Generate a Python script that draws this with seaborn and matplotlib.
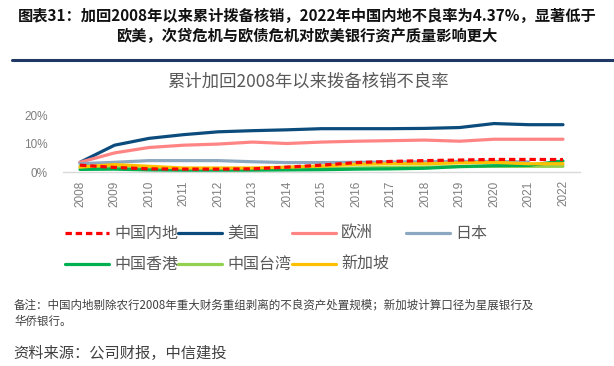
import matplotlib
matplotlib.use("Agg")
import matplotlib.pyplot as plt
from matplotlib.lines import Line2D
import seaborn as sns
import pandas as pd
import numpy as np

years = list(range(2008, 2023))
china_mainland = [2.4, 1.6, 1.1, 1.0, 1.0, 1.1, 1.7, 2.4, 3.3, 3.7, 4.0, 4.2, 4.4, 4.4, 4.37]
usa = [3.4, 9.4, 11.8, 13.1, 14.1, 14.5, 14.8, 15.2, 15.2, 15.2, 15.3, 15.6, 17.0, 16.6, 16.6]
europe = [3.4, 6.7, 8.6, 9.4, 9.8, 10.5, 10.0, 10.5, 10.8, 11.0, 11.2, 10.8, 11.5, 11.5, 11.5]
japan = [2.9, 3.4, 4.0, 4.0, 4.0, 3.6, 3.3, 3.3, 3.4, 3.5, 3.6, 3.7, 3.7, 3.5, np.nan]
hongkong = [0.9, 1.0, 0.7, 0.6, 0.6, 0.6, 0.7, 0.8, 1.0, 1.1, 1.3, 1.9, 2.2, 2.3, 3.9]
taiwan = [2.0, 1.8, 1.2, 1.0, 1.0, 1.0, 1.1, 1.2, 1.4, 1.6, 1.7, 1.9, 2.0, 2.0, 2.0]
singapore = [1.7, 2.6, 2.0, 1.4, 1.4, 1.4, 1.7, 2.1, 2.7, 2.9, 2.9, 3.2, 3.4, 2.9, 2.9]

series_names = ["中国内地", "美国", "欧洲", "日本", "中国香港", "中国台湾", "新加坡"]
series_values = [china_mainland, usa, europe, japan, hongkong, taiwan, singapore]
colors = ["#FF0000", "#0B4C7C", "#FF8585", "#8CA8C0", "#00B050", "#92D050", "#FFC000"]
yticks = [0, 10, 20]
ytick_labels = ["0%", "10%", "20%"]

rows = []
for name, vals in zip(series_names, series_values):
    for y, v in zip(years, vals):
        rows.append({"year": y, "series": name, "value": v})
df = pd.DataFrame(rows)

sns.set_style("white")
plt.rcParams['font.family'] = ['Noto Sans CJK SC', 'DejaVu Sans']

W, H = 614, 366
fig = plt.figure(figsize=(W / 100, H / 100), dpi=100)

def fx(px):
    return px / W

def fy(py):
    return 1 - py / H

left_px, right_px = 62.75, 580.25
top_px, bot_px = 115, 172
ax = fig.add_axes([fx(left_px), fy(bot_px), fx(right_px - left_px), (bot_px - top_px) / H])

palette = dict(zip(series_names, colors))
order_draw = ["美国", "欧洲", "日本", "中国台湾", "中国香港", "新加坡", "中国内地"]
for name in order_draw:
    sub = df[df["series"] == name].dropna()
    sns.lineplot(data=sub, x="year", y="value", ax=ax, color=palette[name],
                 linewidth=2.3, legend=False, clip_on=False,
                 linestyle=(0, (2.0, 1.2)) if name == "中国内地" else "-")

ax.set_xlim(2007.5, 2022.5)
ax.set_ylim(0, 20)
ax.set_xlabel("")
ax.set_ylabel("")
for s in ["top", "right", "left"]:
    ax.spines[s].set_visible(False)
ax.spines["bottom"].set_color("#D9D9D9")
ax.spines["bottom"].set_linewidth(1.0)

ax.set_xticks(years)
ax.set_xticklabels([str(y) for y in years], rotation=90, fontsize=8.5,
                   color="#7F7F7F", family=["Liberation Sans", "DejaVu Sans"])
ax.set_xticks([y + 0.5 for y in years[:-1]] + [2007.5], minor=True)
ax.tick_params(axis="x", which="major", length=0, pad=6)
ax.tick_params(axis="x", which="minor", length=3, color="#D9D9D9", width=1, direction="out")
ax.set_yticks(yticks)
ax.set_yticklabels(ytick_labels, fontsize=8.5, color="#7F7F7F",
                   family=["Liberation Sans", "DejaVu Sans"])
ax.tick_params(axis="y", length=0, pad=11)
ax.grid(False)

# Title
fig.text(0.5, fy(16), "图表31：加回2008年以来累计拨备核销，2022年中国内地不良率为4.37%，显著低于",
         ha="center", va="center", fontsize=11, fontweight="bold", color="#111111")
fig.text(0.5, fy(36), "欧美，次贷危机与欧债危机对欧美银行资产质量影响更大",
         ha="center", va="center", fontsize=11, fontweight="bold", color="#111111")
fig.add_artist(Line2D([fx(12), fx(614)], [fy(60), fy(60)], color="#1F3864", linewidth=2.2))

# Chart subtitle
fig.text(fx(308), fy(82), "累计加回2008年以来拨备核销不良率", ha="center", va="center",
         fontsize=12.5, color="#595959")

# Legend (manual, row-major with equal column widths)
col_x = [65, 178, 292, 406]
row_y = [233, 264]
for i, (name, c) in enumerate(zip(series_names, colors)):
    r, k = divmod(i, 4)
    x0 = col_x[k]
    y0 = row_y[r]
    ls = (0, (2.0, 1.2)) if name == "中国内地" else "-"
    fig.add_artist(Line2D([fx(x0), fx(x0 + 44)], [fy(y0), fy(y0)], color=c,
                          linewidth=2.3, linestyle=ls))
    fig.text(fx(x0 + 49), fy(y0), name, ha="left", va="center", fontsize=11.5,
             color="#595959")

# Notes
fig.text(fx(14), fy(305), "备注：中国内地剔除农行2008年重大财务重组剥离的不良资产处置规模；新加坡计算口径为星展银行及",
         ha="left", va="center", fontsize=8.3, style="italic", color="#404040")
fig.text(fx(14), fy(321), "华侨银行。", ha="left", va="center", fontsize=8.3,
         style="italic", color="#404040")
fig.text(fx(13), fy(353), "资料来源：公司财报，中信建投", ha="left", va="center",
         fontsize=11, color="#404040")

fig.savefig("out.png", dpi=100)
